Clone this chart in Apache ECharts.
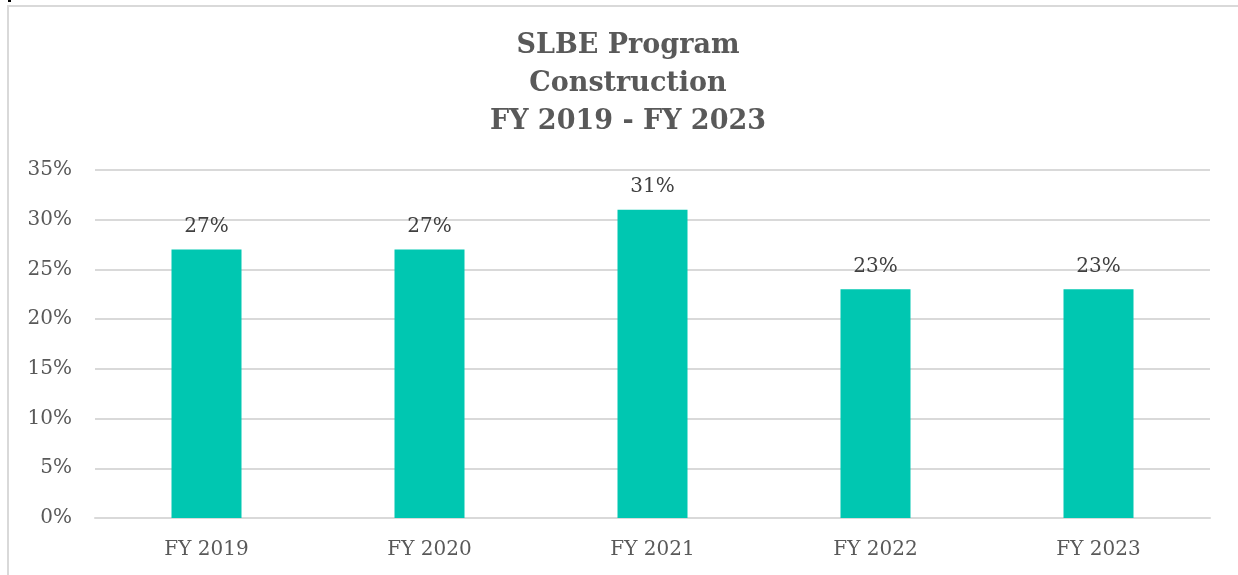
<!DOCTYPE html>
<html><head><meta charset="utf-8">
<script src="https://cdn.jsdelivr.net/npm/echarts@6/dist/echarts.min.js"></script>
<style>
html,body{margin:0;padding:0;background:#fff;overflow:hidden;}
#frame{position:absolute;left:7px;top:5px;width:1300px;height:650px;border:2px solid #d9d9d9;box-sizing:border-box;}
#mark{position:absolute;left:8px;top:0;width:3px;height:2px;background:#000;}
#c{position:absolute;left:0;top:0;width:1238px;height:575px;}
</style></head>
<body>
<div id="frame"></div>
<div id="mark"></div>
<div id="c"></div>
<script>
const categories = ['FY 2019','FY 2020','FY 2021','FY 2022','FY 2023'];
const values = [27, 27, 31, 23, 23];
const titleLines = ['SLBE Program','Construction','FY 2019 - FY 2023'];

const chart = echarts.init(document.getElementById('c'), null, {renderer:'canvas'});
const FONT = '"DejaVu Serif", serif';
chart.setOption({
  animation:false,
  backgroundColor:'transparent',
  title:{
    text:titleLines.join('\n'),
    left:623, top:22, textAlign:'center',
    textStyle:{fontFamily:FONT,fontWeight:'bold',fontSize:27,color:'#595959',lineHeight:38}
  },
  grid:{left:95,right:28,top:170,bottom:57,containLabel:false},
  xAxis:{
    type:'category', data:categories,
    axisLine:{lineStyle:{color:'#d9d9d9',width:2}},
    axisTick:{show:false},
    axisLabel:{fontFamily:FONT,fontSize:20,color:'#595959',margin:22}
  },
  yAxis:{
    type:'value', min:0, max:35, interval:5,
    axisLine:{show:false}, axisTick:{show:false},
    splitLine:{lineStyle:{color:'#d9d9d9',width:2}},
    axisLabel:{fontFamily:FONT,fontSize:20,color:'#595959',margin:23,formatter:v=>v+'%'}
  },
  series:[{
    type:'bar', data:values, barWidth:70,
    itemStyle:{color:'#00c7b1'},
    label:{show:true,position:'top',distance:13,fontFamily:FONT,fontSize:20,color:'#404040',formatter:p=>p.value+'%'}
  }]
});
</script>
</body></html>
